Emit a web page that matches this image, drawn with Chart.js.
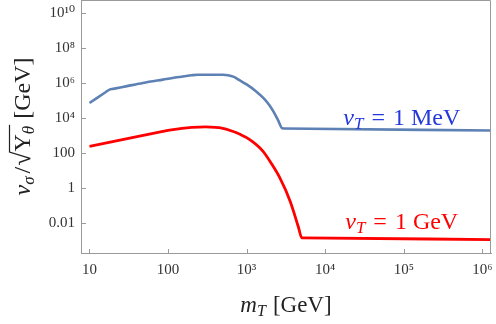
<!DOCTYPE html>
<html>
<head>
<meta charset="utf-8">
<script src="https://cdn.jsdelivr.net/npm/chart.js@4/dist/chart.umd.min.js"></script>
<style>
  html, body { margin: 0; padding: 0; background: #fff; }
  #wrap { width: 496px; height: 324px; }
</style>
</head>
<body>
<div id="wrap"><canvas id="vsigmaChart" width="496" height="324"></canvas></div>
<script>
// ------------------------------
// DATA
// ------------------------------
const xTicks = [10, 100, 1e3, 1e4, 1e5, 1e6];
const xTickLabels = ["10", "100", "10³", "10⁴", "10⁵", "10⁶"];
const yTicks = [0.01, 1, 100, 1e4, 1e6, 1e8, 1e10];
const yTickLabels = ["0.01", "1", "100", "10⁴", "10⁶", "10⁸", "10¹⁰"];

// v_T = 1 MeV
const mevMass = [10, 16, 18, 20, 30, 48, 86, 130, 160, 200, 240, 500, 580, 676, 800, 1000, 1300, 1630, 1900, 2190, 2500, 2850, 3000, 1.3e6];
const mevValue = [7.2e4, 2.95e5, 4.2e5, 4.6e5, 6.6e5, 1.0e6, 1.55e6, 2.1e6, 2.4e6, 2.75e6, 2.95e6, 2.95e6, 2.75e6, 2.3e6, 1.5e6, 8.3e5, 3.5e5, 1.4e5, 6.3e4, 2.4e4, 7.9e3, 2.6e3, 2.55e3, 1.95e3];

// v_T = 1 GeV
const gevMass = [10, 50, 80, 110, 150, 200, 300, 400, 450, 676, 850, 1000, 1200, 1480, 1700, 1990, 2660, 3600, 4550, 5040, 5200, 1.3e6];
const gevValue = [240, 1050, 1.6e3, 2.1e3, 2.57e3, 2.9e3, 3.1e3, 2.95e3, 2.8e3, 1.7e3, 1.1e3, 760, 435, 195, 95, 33, 3.7, 0.17, 6.3e-3, 1.45e-3, 1.44e-3, 1.15e-3];

// where the curve labels sit (data coords: left edge, baseline)
const mevLabelAt = [1.7e4, 4.1e3];
const gevLabelAt = [1.8e4, 4.7e-3];

const BLUE_LINE = "#5e81b5";
const RED_LINE = "#ff0000";
const BLUE_TEXT = "#2438dc";
const AXIS = "#9a9a9a";
const SERIF = "'Liberation Serif', 'DejaVu Serif', serif";

// ------------------------------
// HELPERS
// ------------------------------
function toPoints(xs, ys) {
  return xs.map((x, i) => ({ x: x, y: ys[i] }));
}

// draw a run of text pieces: {t, size, italic, dy, gap}
function drawRich(ctx, parts, x, y, align) {
  let widths = parts.map((p) => {
    ctx.font = (p.italic ? "italic " : "") + p.size + "px " + SERIF;
    return ctx.measureText(p.t).width + (p.gap || 0);
  });
  let total = widths.reduce((a, b) => a + b, 0);
  let cx = align === "center" ? x - total / 2 : x;
  const spots = [];
  parts.forEach((p, i) => {
    ctx.font = (p.italic ? "italic " : "") + p.size + "px " + SERIF;
    ctx.fillText(p.t, cx, y + (p.dy || 0));
    spots.push({ x: cx, w: widths[i] });
    cx += widths[i];
  });
  return spots;
}

// ------------------------------
// FRAME + TEXT PLUGIN
// ------------------------------
const decorPlugin = {
  id: "decor",
  afterDraw(chart) {
    const ctx = chart.ctx;
    const a = chart.chartArea;
    const xs = chart.scales.x;
    const ys = chart.scales.y;

    ctx.save();
    // frame top + right
    ctx.strokeStyle = AXIS;
    ctx.lineWidth = 1;
    ctx.beginPath();
    ctx.moveTo(a.left, a.top + 0.5);
    ctx.lineTo(a.right - 0.5, a.top + 0.5);
    ctx.lineTo(a.right - 0.5, a.bottom);
    ctx.stroke();

    // inward ticks
    ctx.beginPath();
    xTicks.forEach((v) => {
      const px = Math.round(xs.getPixelForValue(v)) + 0.5;
      ctx.moveTo(px, a.bottom);
      ctx.lineTo(px, a.bottom - 4);
    });
    yTicks.forEach((v) => {
      const py = Math.round(ys.getPixelForValue(v)) + 0.5;
      ctx.moveTo(a.left, py);
      ctx.lineTo(a.left + 5, py);
    });
    ctx.stroke();

    ctx.textBaseline = "alphabetic";
    ctx.textAlign = "left";

    // curve labels
    ctx.fillStyle = BLUE_TEXT;
    drawRich(ctx, [
      { t: "v", size: 24, italic: true },
      { t: "T", size: 17, italic: true, dy: 4, gap: 8 },
      { t: "=", size: 24, gap: 8 },
      { t: "1 MeV", size: 24 }
    ], xs.getPixelForValue(mevLabelAt[0]), ys.getPixelForValue(mevLabelAt[1]), "left");

    ctx.fillStyle = RED_LINE;
    drawRich(ctx, [
      { t: "v", size: 24, italic: true },
      { t: "T", size: 17, italic: true, dy: 4, gap: 8 },
      { t: "=", size: 24, gap: 8 },
      { t: "1 GeV", size: 24 }
    ], xs.getPixelForValue(gevLabelAt[0]), ys.getPixelForValue(gevLabelAt[1]), "left");

    // x title
    ctx.fillStyle = "#222";
    drawRich(ctx, [
      { t: "m", size: 23, italic: true },
      { t: "T", size: 16, italic: true, dy: 4, gap: 7 },
      { t: "[GeV]", size: 23 }
    ], (a.left + a.right) / 2, 312, "center");

    // y title (rotated)
    ctx.translate(30, (a.top + a.bottom) / 2);
    ctx.rotate(-Math.PI / 2);
    const sp = drawRich(ctx, [
      { t: "v", size: 24, italic: true },
      { t: "σ", size: 17, italic: true, dy: 4, gap: 3 },
      { t: "/", size: 24, gap: 1 },
      { t: "√", size: 26 },
      { t: "Y", size: 24 },
      { t: "θ", size: 17, italic: true, dy: 4, gap: 7 },
      { t: "[GeV]", size: 24 }
    ], 0, 0, "center");
    // overline of the root
    ctx.strokeStyle = "#222";
    ctx.lineWidth = 1.2;
    ctx.beginPath();
    ctx.moveTo(sp[3].x + sp[3].w - 1, -20.5);
    ctx.lineTo(sp[5].x + sp[5].w - 6, -20.5);
    ctx.stroke();
    ctx.restore();
  }
};

// ------------------------------
// CHART
// ------------------------------
new Chart(document.getElementById("vsigmaChart"), {
  type: "line",
  data: {
    datasets: [
      {
        label: "vT = 1 MeV",
        data: toPoints(mevMass, mevValue),
        borderColor: BLUE_LINE,
        borderWidth: 2.6,
        pointRadius: 0,
        cubicInterpolationMode: "monotone",
        fill: false
      },
      {
        label: "vT = 1 GeV",
        data: toPoints(gevMass, gevValue),
        borderColor: RED_LINE,
        borderWidth: 2.8,
        pointRadius: 0,
        cubicInterpolationMode: "monotone",
        fill: false
      }
    ]
  },
  options: {
    responsive: false,
    animation: false,
    events: [],
    layout: { padding: { top: 0, right: 5, left: 0, bottom: 0 } },
    plugins: {
      legend: { display: false },
      tooltip: { enabled: false }
    },
    scales: {
      x: {
        type: "logarithmic",
        min: 7.8,
        max: 1.29e6,
        afterBuildTicks: (s) => { s.ticks = xTicks.map((v) => ({ value: v })); },
        afterFit: (s) => {
          s.height = 71;
          s.paddingLeft = 0;
          s.paddingRight = 0;
        },
        grid: { drawOnChartArea: false, drawTicks: false },
        border: { color: AXIS, width: 1 },
        ticks: {
          autoSkip: false,
          maxRotation: 0,
          padding: 8,
          color: "#333",
          font: { family: SERIF, size: 15 },
          callback: (v) => xTickLabels[xTicks.indexOf(v)]
        }
      },
      y: {
        type: "logarithmic",
        min: 2e-4,
        max: 5.4e10,
        afterBuildTicks: (s) => { s.ticks = yTicks.map((v) => ({ value: v })); },
        afterFit: (s) => {
          s.width = 81;
          s.paddingTop = 0;
          s.paddingBottom = 0;
        },
        grid: { drawOnChartArea: false, drawTicks: false },
        border: { color: AXIS, width: 1 },
        ticks: {
          autoSkip: false,
          padding: 6,
          color: "#333",
          font: { family: SERIF, size: 15 },
          callback: (v) => yTickLabels[yTicks.indexOf(v)]
        }
      }
    }
  },
  plugins: [decorPlugin]
});
</script>
</body>
</html>
